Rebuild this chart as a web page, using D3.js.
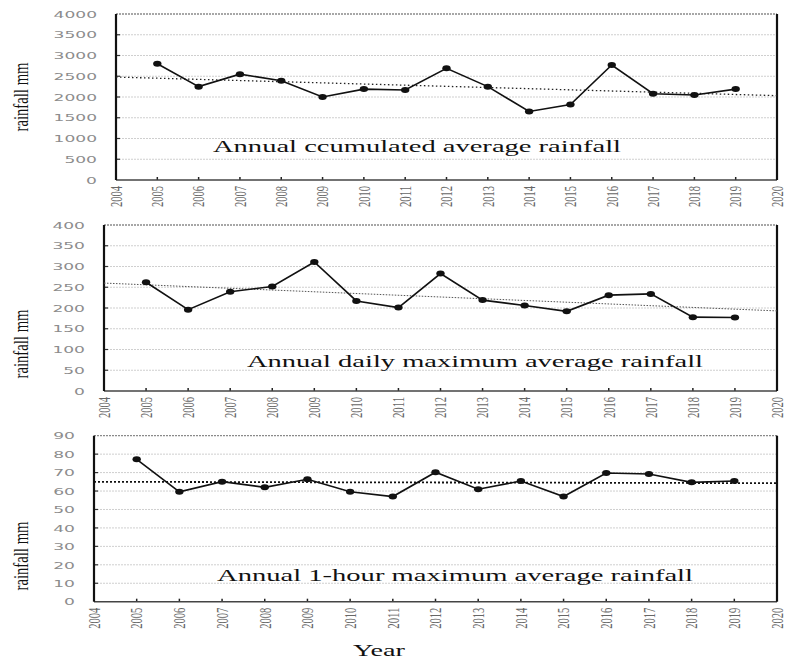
<!DOCTYPE html>
<html><head><meta charset="utf-8">
<script src="https://cdn.jsdelivr.net/npm/d3@7"></script>
<style>body{margin:0;background:#fff}</style>
</head><body>
<svg id="c" width="785" height="661"></svg>
<script>
const years = [2005,2006,2007,2008,2009,2010,2011,2012,2013,2014,2015,2016,2017,2018,2019];
const xTicks = [2004,2005,2006,2007,2008,2009,2010,2011,2012,2013,2014,2015,2016,2017,2018,2019,2020];
const accumulated = [2800,2250,2550,2390,2000,2190,2170,2690,2250,1650,1820,2770,2080,2050,2190];
const dailyMax = [262,196,239,252,311,217,201,283,219,206,192,231,234,178,177];
const hourMax = [77.2,59.6,65.1,62,66.4,59.6,57,70.2,61,65.4,57,69.8,69.2,64.7,65.4];
const yTicks1 = [0,500,1000,1500,2000,2500,3000,3500,4000];
const yTicks2 = [0,50,100,150,200,250,300,350,400];
const yTicks3 = [0,10,20,30,40,50,60,70,80,90];
const titles = ["Annual ccumulated average rainfall","Annual daily maximum average rainfall","Annual 1-hour maximum average rainfall"];
const yLabel = "rainfall  mm";
const xLabel = "Year";

const svg = d3.select("#c");
const RIGHT = 777;

function regression(xs, ys){
  const n = xs.length, mx = d3.mean(xs), my = d3.mean(ys);
  let sxy=0, sxx=0;
  for(let i=0;i<n;i++){ sxy += (xs[i]-mx)*(ys[i]-my); sxx += (xs[i]-mx)**2; }
  const b = sxy/sxx; return x => my + b*(x-mx);
}

function panel(cfg){
  const g = svg.append("g");
  const x = d3.scaleLinear().domain([2004,2020]).range([cfg.left, RIGHT]);
  const y = d3.scaleLinear().domain([0, cfg.max]).range([cfg.bottom, cfg.top]);

  g.selectAll(".grid").data(cfg.yTicks.filter(v => v>0 && v<cfg.max)).join("line")
    .attr("x1", cfg.left).attr("x2", RIGHT).attr("y1", d=>y(d)).attr("y2", d=>y(d))
    .attr("stroke","#cfcfcf").attr("stroke-width",1).attr("stroke-dasharray","2,1");

  const sx = 1.9;
  const ya = g.append("g").attr("transform",`translate(${cfg.left},0)`)
    .call(d3.axisLeft(y).tickValues(cfg.yTicks).tickSize(0).tickFormat(d3.format("d")));
  ya.select(".domain").remove();
  ya.attr("font-family","DejaVu Sans").attr("font-size",9);
  ya.selectAll("text").attr("x", -19/sx).attr("transform",`scale(${sx},1)`).attr("fill","#8c8c8c").attr("dy","0.36em");
  g.selectAll(".yt").data(cfg.yTicks.filter(v => v>0 && v<cfg.max)).join("line")
    .attr("x1", cfg.left).attr("x2", cfg.left+4).attr("y1", d=>y(d)).attr("y2", d=>y(d))
    .attr("stroke","#333").attr("stroke-width",1.2);

  const xa = g.append("g").attr("transform",`translate(0,${cfg.bottom})`)
    .call(d3.axisBottom(x).tickValues(xTicks).tickSize(0).tickFormat(d3.format("d")));
  xa.select(".domain").remove();
  xa.attr("font-family","Liberation Serif").attr("font-size",16);
  xa.selectAll("text").attr("transform","rotate(-90)").attr("text-anchor","end")
    .attr("x",-6).attr("y",0).attr("dy","0.33em").attr("fill","#666")
    .attr("textLength",21).attr("lengthAdjust","spacingAndGlyphs");
  g.selectAll(".xt").data(xTicks.slice(1,-1)).join("line")
    .attr("x1", d=>x(d)).attr("x2", d=>x(d)).attr("y1", cfg.bottom).attr("y2", cfg.bottom-3)
    .attr("stroke","#222").attr("stroke-width",1.5);

  g.append("line").attr("x1",cfg.left).attr("x2",RIGHT).attr("y1",cfg.top).attr("y2",cfg.top)
    .attr("stroke","#8a8a8a").attr("stroke-width",1.3).attr("stroke-dasharray","2,1");
  g.append("line").attr("x1",cfg.left).attr("x2",RIGHT).attr("y1",cfg.bottom).attr("y2",cfg.bottom)
    .attr("stroke","#444").attr("stroke-width",1.6);
  g.append("line").attr("x1",cfg.left).attr("x2",cfg.left).attr("y1",cfg.top).attr("y2",cfg.bottom)
    .attr("stroke","#111").attr("stroke-width",2.2);
  g.append("line").attr("x1",RIGHT).attr("x2",RIGHT).attr("y1",cfg.top).attr("y2",cfg.bottom)
    .attr("stroke","#111").attr("stroke-width",2.2);

  const f = regression(years, cfg.values);
  g.append("line").attr("x1",x(2004)).attr("x2",x(2020)).attr("y1",y(f(2004))).attr("y2",y(f(2020)))
    .attr("stroke",cfg.trendColor).attr("stroke-width",cfg.trendWidth).attr("stroke-dasharray",cfg.trendDash);

  const line = d3.line().x((d,i)=>x(years[i])).y(d=>y(d));
  g.append("path").datum(cfg.values).attr("d",line).attr("fill","none").attr("stroke","#111").attr("stroke-width",1.6);
  g.selectAll(".pt").data(cfg.values).join("ellipse")
    .attr("cx",(d,i)=>x(years[i])).attr("cy",d=>y(d)).attr("rx",4.2).attr("ry",3).attr("fill","#111");

  g.append("text").attr("x",cfg.titleX).attr("y",cfg.titleY).text(cfg.title)
    .attr("font-family","Liberation Serif").attr("font-size",17).attr("fill","#111")
    .attr("textLength",cfg.titleW).attr("lengthAdjust","spacingAndGlyphs");

  g.append("text").attr("transform",`translate(28,${cfg.ylabY}) rotate(-90)`).attr("text-anchor","middle")
    .text(yLabel).attr("font-family","Liberation Serif").attr("font-size",20).attr("fill","#111")
    .attr("textLength",69).attr("lengthAdjust","spacingAndGlyphs");
}

panel({left:116, top:14, bottom:180, max:4000, yTicks:yTicks1, values:accumulated,
  title:titles[0], titleX:213, titleY:152, titleW:408, ylabY:97,
  trendColor:"#222", trendWidth:1.3, trendDash:"1.5,2.5"});
panel({left:104, top:225, bottom:391, max:400, yTicks:yTicks2, values:dailyMax,
  title:titles[1], titleX:247, titleY:367, titleW:456, ylabY:344,
  trendColor:"#555", trendWidth:1, trendDash:"1.5,1.5"});
panel({left:94, top:435.7, bottom:601.7, max:90, yTicks:yTicks3, values:hourMax,
  title:titles[2], titleX:217, titleY:581, titleW:476, ylabY:556,
  trendColor:"#111", trendWidth:1.8, trendDash:"2,2"});

svg.append("text").attr("x",353).attr("y",656).text(xLabel)
  .attr("font-family","Liberation Serif").attr("font-size",16).attr("fill","#111")
  .attr("textLength",52).attr("lengthAdjust","spacingAndGlyphs");
</script>
</body></html>
